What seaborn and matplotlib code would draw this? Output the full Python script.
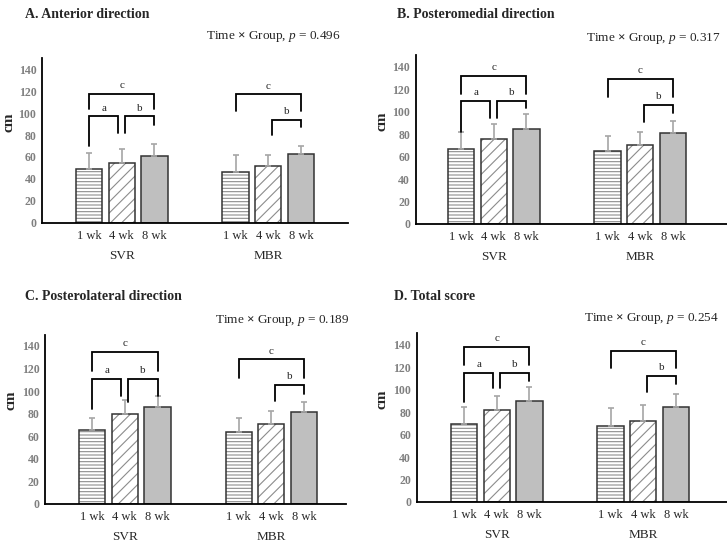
import matplotlib.pyplot as plt
import matplotlib as mpl
import seaborn as sns
import numpy as np
import pandas as pd
from matplotlib.transforms import blended_transform_factory

sns.set_style('white')
plt.rcParams['font.family'] = ['Liberation Serif', 'DejaVu Serif']
plt.rcParams['mathtext.fontset'] = 'custom'
plt.rcParams['mathtext.rm'] = 'Liberation Serif'
plt.rcParams['mathtext.it'] = 'Liberation Serif:italic'
plt.rcParams['mathtext.bf'] = 'Liberation Serif:bold'
plt.rcParams['hatch.linewidth'] = 0.8

# ---- data ----
groups = ['SVR', 'MBR']
weeks = ['1 wk', '4 wk', '8 wk']
titles = ['A. Anterior direction', 'B. Posteromedial direction',
          'C. Posterolateral direction', 'D. Total score']
p_values = ['0.496', '0.317', '0.189', '0.254']

# bar means (cm), one row per panel
svr_mean = [[48.7, 54.5, 60.9], [66.4, 75.3, 84.5], [65.4, 79.6, 86.1], [69.1, 81.6, 89.9]]
mbr_mean = [[46.6, 52.0, 62.4], [64.7, 70.6, 80.7], [63.3, 70.7, 81.4], [67.3, 71.8, 84.5]]
# upper error (SD)
svr_sd = [[14.6, 13.1, 10.9], [15.2, 13.4, 13.1], [11.0, 12.7, 9.5], [15.7, 13.0, 12.7]]
mbr_sd = [[14.9, 9.5, 7.3], [13.3, 11.0, 11.3], [13.1, 11.3, 9.2], [16.7, 14.8, 11.6]]

# significance brackets: (from bar, to bar, top, left leg end, right leg end, label)
svr_brackets = [
    [(0, 2, 117.5, 104, 104, 'c'), (0, 1, 97, 70, 82, 'a'), (1, 2, 97, 82, 89, 'b')],
    [(0, 2, 132, 116, 116, 'c'), (0, 1, 109.5, 82, 94, 'a'), (1, 2, 109.5, 94, 103, 'b')],
    [(0, 2, 135, 118, 118, 'c'), (0, 1, 111, 84, 96, 'a'), (1, 2, 111, 90, 96, 'b')],
    [(0, 2, 137.6, 122, 122, 'c'), (0, 1, 115, 89, 101, 'a'), (1, 2, 115, 101, 108, 'b')],
]
mbr_brackets = [
    [(0, 2, 117, 102, 102, 'c'), (1, 2, 93.7, 80, 87, 'b')],
    [(0, 2, 129, 113, 113, 'c'), (1, 2, 106, 91, 98.5, 'b')],
    [(0, 2, 128, 112, 112, 'c'), (1, 2, 105, 91, 97.6, 'b')],
    [(0, 2, 134.7, 119, 119, 'c'), (1, 2, 112, 98, 105, 'b')],
]

# ---- layout (pixels) ----
W, H = 727, 545
# left, x-axis y (from top), width, height
rects = [(42, 222.7, 306, 164.4), (415.7, 224, 311.3, 168.6),
         (45.3, 503.7, 300.7, 169), (416.7, 502, 310.6, 168.6)]
xlims = [(-0.544, 1.544), (-0.532, 1.591), (-0.542, 1.509), (-0.546, 1.573)]
title_pos = [(25, 14), (397, 14), (25, 296), (394, 296)]
ptext_pos = [(341, 36), (721, 38), (350, 321), (719, 319)]
ylabel_x = [-0.088, -0.088, -0.092, -0.092]
leg_shift = 0.023  # legs meeting at the middle bar sit a little off its centre

fig = plt.figure(figsize=(W / 100, H / 100), dpi=100)

for k in range(4):
    l, y0, w, h = rects[k]
    ax = fig.add_axes([l / W, 1 - y0 / H, w / W, h / H])

    df = pd.DataFrame({
        'group': [g for g in groups for _ in weeks],
        'week': weeks * 2,
        'cm': svr_mean[k] + mbr_mean[k],
    })
    sns.barplot(data=df, x='group', y='cm', hue='week', order=groups, hue_order=weeks,
                width=0.67, gap=0.2, errorbar=None, saturation=1,
                palette=['white', 'white', '#bfbfbf'], edgecolor='#333333',
                linewidth=1.1, legend=False, ax=ax)

    hatches = ['-----', '///', '']
    centers = {g: [] for g in groups}
    for hi, cont in enumerate(ax.containers):
        for gi, bar in enumerate(cont.patches):
            bar.set_hatch(hatches[hi])
            bar._hatch_color = mpl.colors.to_rgba('#8c8c8c')
            centers[groups[gi]].append(bar.get_x() + bar.get_width() / 2)

    # upper error bars
    for g, means, sds in [('SVR', svr_mean[k], svr_sd[k]), ('MBR', mbr_mean[k], mbr_sd[k])]:
        ax.errorbar(centers[g], means, yerr=[np.zeros(3), sds], fmt='none',
                    ecolor='#a6a6a6', elinewidth=1.2, capsize=2.5, capthick=1.2, zorder=3)

    # brackets
    for g, brs in [('SVR', svr_brackets[k]), ('MBR', mbr_brackets[k])]:
        xs = centers[g]
        for i, j, top, le, re, lab in brs:
            x1 = xs[i] + (leg_shift if i == 1 else 0)
            x2 = xs[j] - (leg_shift if j == 1 else 0)
            ax.plot([x1, x1, x2, x2], [le, top, top, re],
                    color='black', lw=1.3, solid_joinstyle='miter', zorder=4)
            ax.text((x1 + x2) / 2, top + 7.5, lab, ha='center', va='center', fontsize=8)

    ax.set_xlim(*xlims[k])
    ax.set_ylim(0, 150)
    ax.set_yticks(range(0, 141, 20))
    ax.set_yticklabels([str(v) for v in range(0, 141, 20)], fontweight='bold')
    ax.tick_params(axis='y', length=0, pad=4, labelsize=8.5, labelcolor='#7f7f7f')

    tick_x = centers['SVR'] + centers['MBR']
    ax.set_xticks(tick_x)
    ax.set_xticklabels(weeks * 2)
    ax.tick_params(axis='x', length=0, pad=5, labelsize=9)
    ax.set_xlabel('')

    trans = blended_transform_factory(ax.transData, ax.transAxes)
    for g in groups:
        ax.text(np.mean(centers[g]), -33 / h, g, transform=trans, ha='center', va='center', fontsize=9.5)

    ax.set_ylabel('cm', fontweight='bold', fontsize=11)
    ax.yaxis.set_label_coords(ylabel_x[k], 0.61)

    sns.despine(ax=ax)
    for s in ['left', 'bottom']:
        ax.spines[s].set_color('black')
        ax.spines[s].set_linewidth(1.3)

    tx, ty = title_pos[k]
    fig.text(tx / W, 1 - ty / H, titles[k], fontweight='bold', fontsize=10, va='center')
    px, py = ptext_pos[k]
    fig.text(px / W, 1 - py / H, 'Time $\\mathbf{\\times}$ Group, $\\mathit{p}$ = ' + p_values[k],
             ha='right', va='center', fontsize=9.5)

fig.savefig('out.png', dpi=100)
